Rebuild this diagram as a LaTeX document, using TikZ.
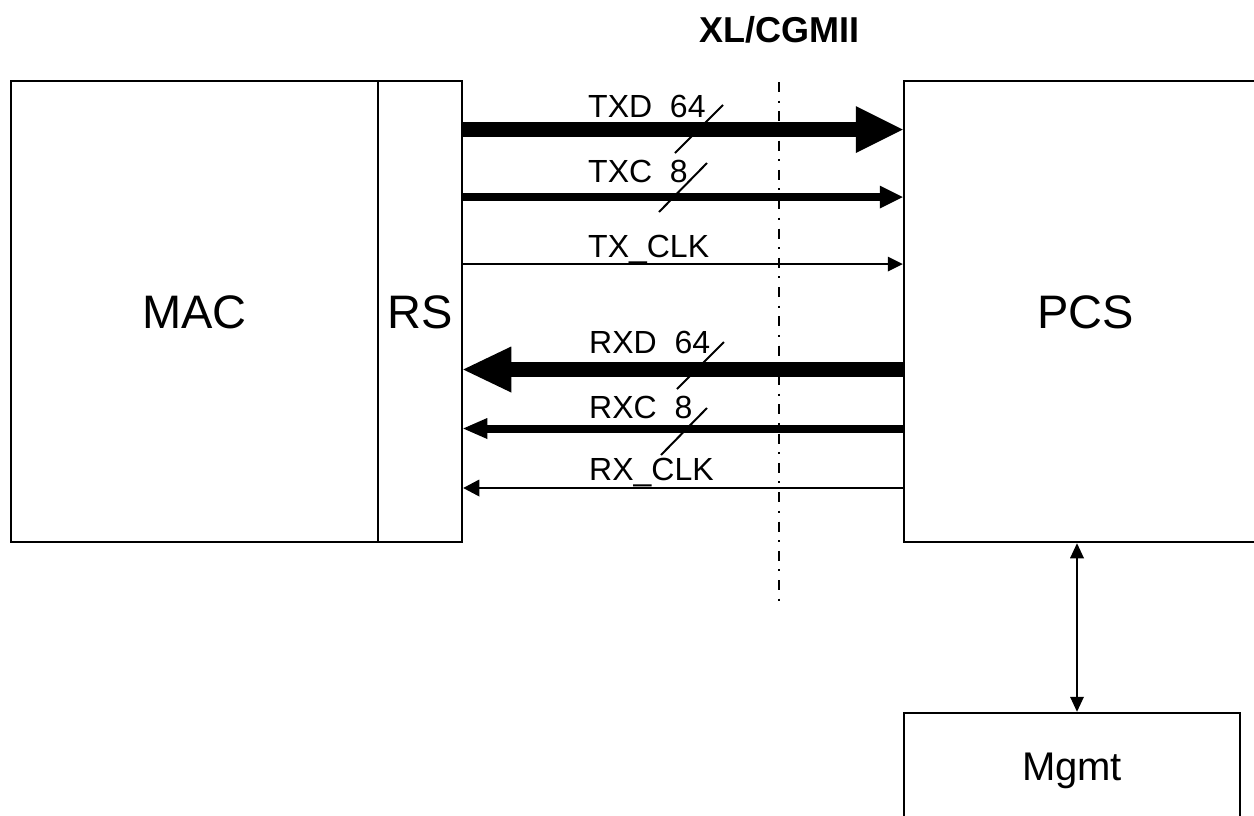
\documentclass[tikz,border=0pt]{standalone}
\usepackage{fontspec}
\setmainfont{Liberation Sans}
\usetikzlibrary{arrows.meta}
\begin{document}
\begin{tikzpicture}[x=1pt,y=-1pt,
  box/.style={draw,line width=2.5pt,inner sep=0pt,minimum height=461pt,
    text height=34pt,text depth=0pt,font=\fontsize{47}{56}\selectfont},
  lbl/.style={anchor=base west,inner sep=0pt,font=\fontsize{32}{38}\selectfont},
  slash/.style={line width=2pt},
  bus64/.style={line width=15pt},
  bus8/.style={line width=8pt},
  clk/.style={line width=2.5pt},
  dashdot/.style={line width=2pt,dash pattern=on 10pt off 8.5pt on 2pt off 8.8pt}
]
\useasboundingbox (0,0) rectangle (1254,815);

% boxes
\node[box,minimum width=367pt] (mac) at (194.5,311.5) {MAC};
\node[box,minimum width=84pt] (rs) at (420,311.5) {RS};
\node[box,minimum width=363pt] (pcs) at (1085.5,311.5) {PCS};
\node[draw,line width=2.5pt,inner sep=0pt,minimum width=336pt,minimum height=106pt,
  text height=28.6pt,text depth=0pt,font=\fontsize{40}{48}\selectfont] (mgmt) at (1072,766) {Mgmt};

% title and interface line
\node[anchor=base,inner sep=0pt,font=\fontsize{36}{43}\selectfont\bfseries] (title) at (779,42.7) {XL/CGMII};
\coordinate (dtop) at (779,82);
\coordinate (dbot) at (779,602);
\draw[dashdot] (dtop) -- (dbot);

% row coordinates
\coordinate (r1) at (0,129.5);
\coordinate (r2) at (0,197);
\coordinate (r3) at (0,264);
\coordinate (r4) at (0,369.5);
\coordinate (r5) at (0,428.5);
\coordinate (r6) at (0,488);

% transmit
\draw[bus64,-{Triangle[length=47pt,width=47pt,line width=0pt]}] (rs.east |- r1) -- (pcs.west |- r1);
\draw[bus8,-{Triangle[length=23pt,width=23pt,line width=0pt]}] (rs.east |- r2) -- (pcs.west |- r2);
\draw[clk,-{Triangle[length=15pt,width=15pt,line width=0pt]}] (rs.east |- r3) -- (pcs.west |- r3);
% receive
\draw[bus64,-{Triangle[length=48pt,width=46pt,line width=0pt]}] (pcs.west |- r4) -- (rs.east |- r4);
\draw[bus8,-{Triangle[length=24pt,width=21pt,line width=0pt]}] (pcs.west |- r5) -- (rs.east |- r5);
\draw[clk,-{Triangle[length=16pt,width=17pt,line width=0pt]}] (pcs.west |- r6) -- (rs.east |- r6);

% labels
\node[lbl] (ltxd) at (588,117) {TXD\ \ 64};
\node[lbl] (ltxc) at (588,182) {TXC\ \ 8};
\node[lbl] (ltxclk) at (588,257) {TX\_CLK};
\node[lbl] (lrxd) at (589,353) {RXD\ \ 64};
\node[lbl] (lrxc) at (589,418) {RXC\ \ 8};
\node[lbl] (lrxclk) at (589,480) {RX\_CLK};

% width slashes
\draw[slash] (723,105) -- (675,153);
\draw[slash] (707,163) -- (659,212);
\draw[slash] (724,342) -- (677,389);
\draw[slash] (707,408) -- (661,455);

% management
\coordinate (mx) at (1077,0);
\draw[line width=2.5pt,{Triangle[length=15pt,width=14pt,line width=0pt]}-{Triangle[length=15pt,width=14pt,line width=0pt]}]
  (mx |- pcs.south) -- (mx |- mgmt.north);
\end{tikzpicture}
\end{document}
